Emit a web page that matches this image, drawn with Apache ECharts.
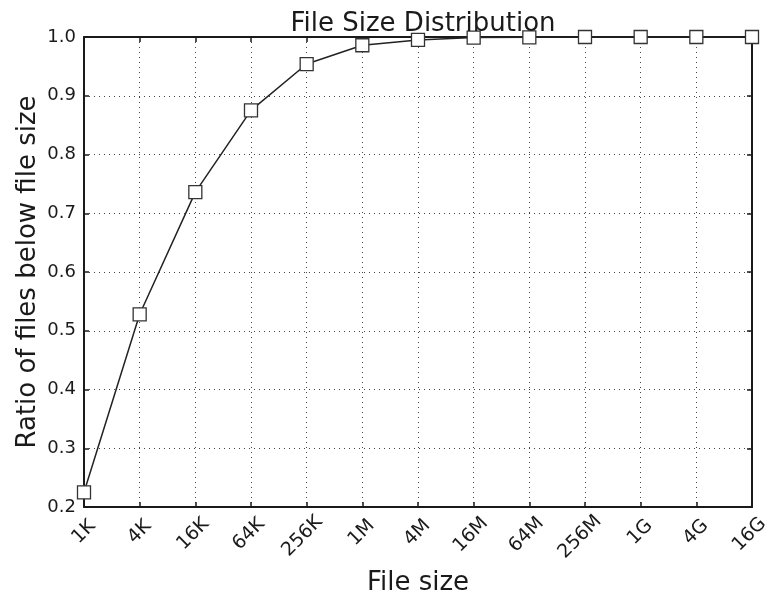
<!DOCTYPE html>
<html>
<head>
<meta charset="utf-8">
<script src="https://cdn.jsdelivr.net/npm/echarts@6/dist/echarts.min.js"></script>
<style>
  html, body { margin: 0; padding: 0; background: #fff; }
  #chart { width: 768px; height: 596px; }
</style>
</head>
<body>
<div id="chart"></div>
<script>
// File size buckets (powers of four, starting at 1 KiB)
var sizeLabels = ['1K', '4K', '16K', '64K', '256K', '1M', '4M', '16M', '64M', '256M', '1G', '4G', '16G'];
// Cumulative ratio of files at or below each size
var ratioBelow = [0.225, 0.528, 0.736, 0.875, 0.954, 0.986, 0.995, 0.999, 0.9995, 1.0, 1.0, 1.0, 1.0];
// Y axis range and step
var yMin = 0.2, yMax = 1.0, yStep = 0.1;

var FONT = 'DejaVu Sans';
var INK = '#1a1a1a';
var X_TICK_FONT_SIZE = 19;
var Y_TICK_FONT_SIZE = 18;

// Rotated tick labels: keep every label's rotated box top-aligned under the
// axis and centred on its tick. Longer labels get extra top/right padding so
// their centre slides straight down by the extra half-diagonal.
var measureCtx = document.createElement('canvas').getContext('2d');
measureCtx.font = X_TICK_FONT_SIZE + 'px "' + FONT + '"';
var labelWidths = sizeLabels.map(function (s) { return measureCtx.measureText(s).width; });
var minWidth = Math.min.apply(null, labelWidths);
var xCategories = sizeLabels.map(function (s, i) {
  var p = (labelWidths[i] - minWidth) / 2;
  return {
    value: s,
    textStyle: { align: 'center', verticalAlign: 'middle', padding: [p, p, 0, 0] }
  };
});

var chart = echarts.init(document.getElementById('chart'), null, { renderer: 'canvas' });

var gridDots = { show: true, lineStyle: { color: '#444', width: 1, type: [1, 4] } };
var frameLine = { show: true, onZero: false, lineStyle: { color: INK, width: 2 } };
var innerTicks = { show: true, inside: true, length: 5, lineStyle: { color: INK, width: 1.5 } };

chart.setOption({
  animation: false,
  backgroundColor: '#ffffff',
  title: {
    text: 'File Size Distribution',
    left: 418, top: 6, textAlign: 'center',
    textStyle: { fontFamily: FONT, fontSize: 26, fontWeight: 'normal', color: INK }
  },
  grid: {
    left: 84, right: 16, top: 37, bottom: 89,
    containLabel: false,
    outerBoundsMode: 'none'
  },
  xAxis: [{
    type: 'category',
    data: xCategories,
    boundaryGap: false,
    name: 'File size',
    nameLocation: 'middle',
    nameGap: 63,
    nameMoveOverlap: false,
    nameTextStyle: { fontFamily: FONT, fontSize: 26, color: INK },
    axisLine: frameLine,
    axisTick: innerTicks,
    axisLabel: {
      rotate: 45, interval: 0, margin: 25,
      align: 'center', verticalAlign: 'middle',
      fontFamily: FONT, fontSize: X_TICK_FONT_SIZE, color: INK
    },
    splitLine: gridDots
  }, {
    type: 'category',
    data: sizeLabels,
    boundaryGap: false,
    position: 'top',
    axisLine: frameLine,
    axisTick: innerTicks,
    axisLabel: { show: false },
    splitLine: { show: false }
  }],
  yAxis: [{
    type: 'value',
    min: yMin, max: yMax, interval: yStep,
    name: 'Ratio of files below file size',
    nameLocation: 'middle',
    nameGap: 43,
    nameMoveOverlap: false,
    nameTextStyle: { fontFamily: FONT, fontSize: 26, color: INK },
    axisLine: frameLine,
    axisTick: innerTicks,
    axisLabel: {
      margin: 8,
      fontFamily: FONT, fontSize: Y_TICK_FONT_SIZE, color: INK,
      formatter: function (v) { return v.toFixed(1); }
    },
    splitLine: gridDots
  }, {
    type: 'value',
    min: yMin, max: yMax, interval: yStep,
    position: 'right',
    axisLine: frameLine,
    axisTick: innerTicks,
    axisLabel: { show: false },
    splitLine: { show: false }
  }],
  series: [{
    type: 'line',
    data: ratioBelow,
    xAxisIndex: 0,
    yAxisIndex: 0,
    symbol: 'rect',
    symbolSize: 13,
    showAllSymbol: true,
    lineStyle: { color: '#222', width: 1.5 },
    itemStyle: { color: '#ffffff', borderColor: '#333', borderWidth: 1.3 },
    z: 3
  }]
});
</script>
</body>
</html>
